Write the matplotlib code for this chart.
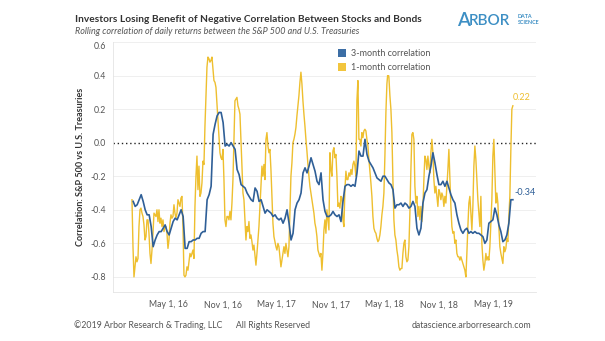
import numpy as np
import pandas as pd
import matplotlib.pyplot as plt
import matplotlib.dates as mdates
from matplotlib.patches import Patch
from matplotlib.ticker import FuncFormatter

plt.rcParams['font.family'] = ['Lato', 'DejaVu Sans']

# 1-month rolling correlation (about every 3.4 days)
corr_1m = [
    -0.34, -0.62, -0.80, -0.74, -0.68, -0.71, -0.69, -0.50, -0.40, -0.39,
    -0.42, -0.44, -0.49, -0.58, -0.56, -0.46, -0.46, -0.54, -0.66, -0.72,
    -0.64, -0.54, -0.42, -0.43, -0.44, -0.40, -0.47, -0.40, -0.48, -0.45,
    -0.50, -0.46, -0.53, -0.50, -0.50, -0.54, -0.63, -0.58, -0.48, -0.43,
    -0.45, -0.44, -0.37, -0.42, -0.45, -0.42, -0.34, -0.36, -0.38, -0.33,
    -0.32, -0.50, -0.79, -0.80, -0.79, -0.74, -0.76, -0.71, -0.66, -0.68,
    -0.66, -0.64, -0.69, -0.38, -0.20, -0.08, -0.28, -0.14, -0.32, -0.30,
    -0.24, -0.11, -0.13, 0.10, 0.27, 0.45, 0.51, 0.50, 0.48, 0.49,
    0.51, 0.44, 0.37, 0.36, 0.33, 0.23, 0.14, 0.02, -0.06, -0.09,
    -0.10, -0.04, -0.22, -0.46, -0.50, -0.44, -0.44, -0.46, -0.41, -0.46,
    -0.36, -0.22, 0.02, 0.25, 0.26, 0.27, 0.22, 0.20, 0.17, 0.02,
    -0.14, -0.30, -0.34, -0.46, -0.58, -0.50, -0.53, -0.47, -0.57, -0.55,
    -0.59, -0.64, -0.61, -0.67, -0.73, -0.66, -0.58, -0.50, -0.38, -0.26,
    -0.14, -0.20, -0.13, -0.22, 0.02, 0.06, -0.02, -0.06, -0.04, -0.16,
    -0.32, -0.48, -0.56, -0.59, -0.62, -0.64, -0.60, -0.62, -0.68, -0.74,
    -0.70, -0.66, -0.62, -0.66, -0.60, -0.64, -0.68, -0.62, -0.42, -0.20,
    -0.12, 0.00, 0.02, 0.05, 0.09, 0.16, 0.22, 0.28, 0.36, 0.42,
    0.35, 0.25, 0.17, 0.10, 0.02, -0.05, -0.13, -0.20, -0.26, -0.30,
    -0.34, -0.38, -0.42, -0.48, -0.51, -0.56, -0.64, -0.66, -0.68, -0.66,
    -0.76, -0.66, -0.52, -0.46, -0.54, -0.40, -0.46, -0.52, -0.06, -0.16,
    -0.20, -0.05, -0.03, -0.09, -0.07, -0.20, -0.38, -0.36, -0.39, -0.32,
    -0.33, -0.46, -0.50, -0.28, -0.17, -0.22, -0.22, -0.18, -0.20, -0.16,
    -0.19, -0.13, -0.11, -0.14, -0.20, 0.25, 0.37, 0.02, 0.02, -0.02,
    0.06, 0.03, 0.07, 0.08, 0.07, 0.02, -0.02, -0.10, -0.17, -0.24,
    -0.32, -0.44, -0.51, -0.53, -0.54, -0.57, -0.59, -0.58, -0.55, -0.50,
    -0.43, -0.38, -0.30, -0.08, 0.18, 0.35, 0.42, 0.39, 0.28, 0.20,
    0.06, -0.22, -0.46, -0.55, -0.58, -0.64, -0.68, -0.74, -0.76, -0.75,
    -0.75, -0.66, -0.60, -0.58, -0.68, -0.71, -0.70, -0.62, -0.42, -0.16,
    0.05, 0.06, 0.02, -0.26, -0.36, -0.32, -0.44, -0.38, -0.46, -0.38,
    -0.47, -0.38, -0.22, -0.08, -0.10, -0.16, -0.08, -0.14, -0.18, -0.06,
    0.02, -0.06, -0.22, -0.30, -0.26, -0.32, -0.38, -0.28, -0.30, -0.34,
    -0.30, -0.32, -0.38, -0.32, -0.36, -0.26, -0.16, -0.04, -0.22, -0.38,
    -0.50, -0.54, -0.53, -0.60, -0.58, -0.66, -0.68, -0.68, -0.70, -0.68,
    -0.70, -0.72, -0.74, -0.76, -0.80, -0.66, -0.50, -0.36, -0.32, -0.42,
    -0.52, -0.38, -0.14, -0.02, -0.10, -0.22, -0.34, -0.42, -0.50, -0.32,
    -0.60, -0.70, -0.76, -0.72, -0.66, -0.70, -0.68, -0.70, -0.62, -0.48,
    -0.34, -0.08, 0.02, -0.18, -0.36, -0.30, -0.36, -0.50, -0.62, -0.66,
    -0.69, -0.72, -0.62, -0.65, -0.63, -0.57, -0.59, -0.44, -0.32, -0.04,
    0.20, 0.22,
]

# 3-month rolling correlation (about every 6.7 days)
corr_3m = [
    -0.35, -0.38, -0.37, -0.34, -0.31, -0.35, -0.40, -0.43, -0.43, -0.50,
    -0.62, -0.58, -0.55, -0.53, -0.53, -0.51, -0.49, -0.53, -0.55, -0.51,
    -0.47, -0.45, -0.46, -0.43, -0.40, -0.44, -0.63, -0.63, -0.59, -0.59,
    -0.58, -0.58, -0.57, -0.57, -0.54, -0.53, -0.53, -0.34, -0.31, -0.26,
    0.05, 0.11, 0.16, 0.18, 0.18, 0.12, -0.02, -0.01, -0.02, 0.00,
    -0.02, -0.04, -0.16, -0.19, -0.25, -0.26, -0.27, -0.30, -0.32, -0.34,
    -0.35, -0.27, -0.29, -0.35, -0.34, -0.38, -0.42, -0.40, -0.41, -0.42,
    -0.44, -0.43, -0.45, -0.46, -0.45, -0.48, -0.45, -0.40, -0.48, -0.58,
    -0.54, -0.40, -0.36, -0.34, -0.30, -0.18, -0.15, -0.18, -0.14, -0.09,
    -0.13, -0.17, -0.23, -0.25, -0.18, -0.34, -0.41, -0.44, -0.44, -0.43,
    -0.41, -0.43, -0.44, -0.43, -0.47, -0.35, -0.26, -0.25, -0.25, -0.26,
    -0.25, -0.26, -0.18, -0.05, -0.08, -0.08, 0.02, -0.07, -0.11, -0.13,
    -0.15, -0.18, -0.21, -0.22, -0.23, -0.20, -0.20, -0.22, -0.24, -0.25,
    -0.28, -0.39, -0.37, -0.37, -0.36, -0.38, -0.36, -0.37, -0.39, -0.38,
    -0.35, -0.38, -0.51, -0.55, -0.51, -0.36, -0.30, -0.28, -0.20, -0.14,
    -0.06, -0.12, -0.19, -0.25, -0.25, -0.23, -0.26, -0.23, -0.27, -0.31,
    -0.34, -0.36, -0.43, -0.48, -0.52, -0.54, -0.52, -0.51, -0.54, -0.53,
    -0.54, -0.53, -0.54, -0.54, -0.55, -0.56, -0.60, -0.58, -0.48, -0.47,
    -0.46, -0.39, -0.43, -0.49, -0.53, -0.59, -0.58, -0.55, -0.48, -0.34,
    -0.34,
]

dates_1m = pd.date_range("2015-12-31", "2019-07-07", periods=len(corr_1m))
dates_3m = pd.date_range("2016-01-04", "2019-07-07", periods=len(corr_3m))

x_ticks = pd.to_datetime(["2016-05-01", "2016-11-01", "2017-05-01", "2017-11-01",
                          "2018-05-01", "2018-11-01", "2019-05-01"])
y_ticks = [0.6, 0.4, 0.2, 0.0, -0.2, -0.4, -0.6, -0.8]

blue = "#2f5f97"
yellow = "#eebf2f"
logo_blue = "#3d8fc4"
text_dark = "#333333"
text_grey = "#555555"

fig = plt.figure(figsize=(6.05, 3.41), dpi=100)
ax = fig.add_axes([113 / 605, 1 - 292 / 341, 423 / 605, 250 / 341])

ax.plot(dates_1m, corr_1m, color=yellow, linewidth=1.0, zorder=3)
ax.plot(dates_3m, corr_3m, color=blue, linewidth=1.2, zorder=4)
ax.axhline(0, color="#222222", linestyle=(0, (1, 2)), linewidth=1.0, zorder=2)

ax.set_xlim(pd.Timestamp("2015-10-28"), pd.Timestamp("2019-09-23"))
ax.set_ylim(-0.89, 0.60)
ax.set_xticks(x_ticks)
ax.xaxis.set_major_formatter(FuncFormatter(
    lambda v, p: "{:%b} {}, {:%y}".format(mdates.num2date(v), mdates.num2date(v).day, mdates.num2date(v))))
ax.set_yticks(y_ticks)
ax.set_yticklabels(["{:.1f}".format(t) for t in y_ticks])
ax.get_yticklabels()[0].set_verticalalignment("top")

ax.tick_params(axis="both", length=0, labelsize=6.3, colors=text_grey)
ax.tick_params(axis="x", pad=6)
ax.tick_params(axis="y", pad=5)
for t in y_ticks:
    if t != 0:
        ax.axhline(t, color="#ececec", linewidth=0.6, zorder=1)
for s in ["top", "right"]:
    ax.spines[s].set_visible(False)
for s in ["left", "bottom"]:
    ax.spines[s].set_color("#e4e4e4")
    ax.spines[s].set_linewidth(0.6)

ax.set_ylabel("Correlation: S&P 500 vs U.S. Treasuries", fontsize=6.5, fontweight="bold",
              color=text_dark, labelpad=4)

# end labels
ax.annotate("{:.2f}".format(corr_1m[-1]), (dates_1m[-1], corr_1m[-1]), xytext=(0, 3),
            textcoords="offset points", color=yellow, fontsize=6.5, ha="left", va="bottom")
ax.annotate("{:.2f}".format(corr_3m[-1]), (dates_3m[-1], corr_3m[-1]), xytext=(1, 2),
            textcoords="offset points", color=blue, fontsize=6.5, ha="left", va="bottom")

handles = [Patch(facecolor="#3c6ea5", label="3-month correlation"),
           Patch(facecolor="#f2c53d", label="1-month correlation")]
leg = ax.legend(handles=handles, loc="upper left", bbox_to_anchor=(0.515, 1.0),
                frameon=True, facecolor="white", edgecolor="none", framealpha=1,
                fontsize=6.5, handlelength=0.9, handleheight=0.9, handletextpad=0.5,
                labelspacing=0.55, borderpad=0.3)
for t in leg.get_texts():
    t.set_color(text_grey)

fig.text(75 / 605, 1 - 19 / 341, "Investors Losing Benefit of Negative Correlation Between Stocks and Bonds",
         fontsize=7.3, fontweight="bold", color=text_dark, va="center")
fig.text(75 / 605, 1 - 32 / 341, "Rolling correlation of daily returns between the S&P 500 and U.S. Treasuries",
         fontsize=6.5, fontstyle="italic", color=text_grey, va="center")

# logo
fig.text(457 / 605, 1 - 20 / 341, "A", fontsize=13.5, color=logo_blue, va="center", fontweight="semibold")
fig.text(469 / 605, 1 - 21 / 341, "RBOR", fontsize=11, color=logo_blue, va="center", fontweight="semibold")
fig.text(518 / 605, 1 - 16 / 341, "DATA", fontsize=3.9, color=logo_blue, va="center", fontweight="bold")
fig.text(518 / 605, 1 - 23 / 341, "SCIENCE", fontsize=3.9, color=logo_blue, va="center", fontweight="bold")

fig.text(74 / 605, 1 - 325 / 341, "\u00a92019 Arbor Research & Trading, LLC      All Rights Reserved",
         fontsize=6.3, color=text_grey, va="center")
fig.text(531 / 605, 1 - 325 / 341, "datascience.arborresearch.com",
         fontsize=6.3, color=text_grey, va="center", ha="right")

plt.savefig("out.png", dpi=100)
plt.close()
